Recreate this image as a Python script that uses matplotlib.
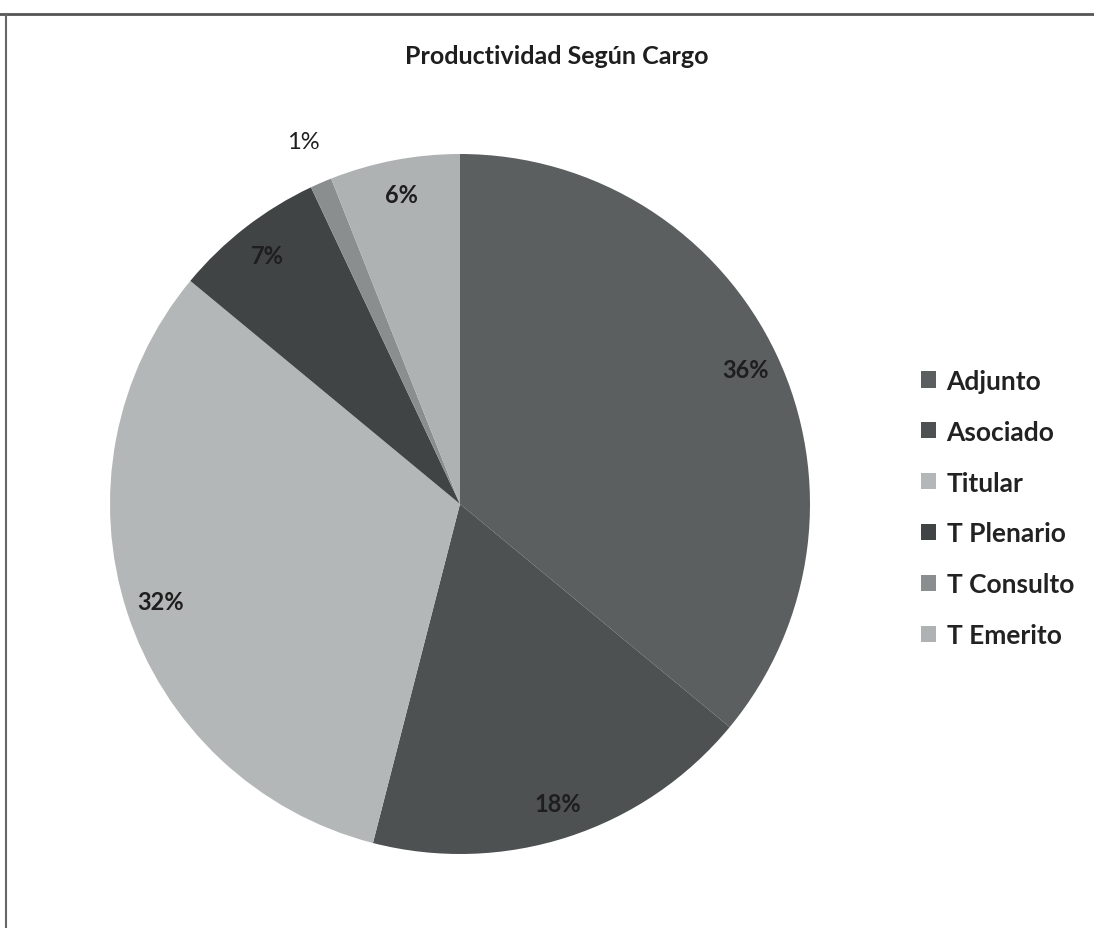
import matplotlib
matplotlib.use("Agg")
import matplotlib.pyplot as plt
import numpy as np
from matplotlib.lines import Line2D
from matplotlib.patches import Patch

categories = ["Adjunto", "Asociado", "Titular", "T Plenario", "T Consulto", "T Emerito"]
values = [36, 18, 32, 7, 1, 6]
labels = ["36%", "18%", "32%", "7%", "1%", "6%"]
colors = ["#5b5f5f", "#4d5151", "#b4b7b7", "#404444", "#8a8e8e", "#afb2b2"]

W, H = 1094, 929
fig = plt.figure(figsize=(W / 100, H / 100), dpi=100)
fig.patch.set_facecolor("white")

cx, cy, r = 460, 505, 350
ax = fig.add_axes([(cx - r) / W, (H - cy - r) / H, 2 * r / W, 2 * r / H])
wedges, _ = ax.pie(values, colors=colors, startangle=90, counterclock=False,
                   radius=1.0, wedgeprops=dict(linewidth=0))
ax.set_xlim(-1, 1)
ax.set_ylim(-1, 1)
ax.set_aspect("equal")
ax.axis("off")

for w, lab, v in zip(wedges, labels, values):
    ang = np.deg2rad((w.theta1 + w.theta2) / 2)
    d = 1.13 if v < 2 else 0.90
    ax.text(d * np.cos(ang), d * np.sin(ang), lab, ha="center", va="center",
            fontsize=17, fontweight="bold" if v >= 2 else "normal",
            color="#1e1e1e", family="Lato")

fig.text(557 / W, 1 - 57 / H, "Productividad Según Cargo", ha="center", va="center",
         fontsize=18, color="#1e1e1e", family="Lato", fontweight="bold")

handles = [Patch(facecolor=c, edgecolor="none") for c in colors]
leg = fig.legend(handles, categories, loc="center left",
                 bbox_to_anchor=(921 / W, 1 - 509 / H), frameon=False,
                 prop=dict(family="Lato", size=19, weight="bold"),
                 handlelength=0.57, handleheight=0.57, handletextpad=0.4,
                 labelspacing=1.02, borderpad=0, borderaxespad=0)
for t in leg.get_texts():
    t.set_color("#222222")

# chart frame
fig.add_artist(Line2D([0, 1], [1 - 15 / H, 1 - 15 / H], transform=fig.transFigure,
                      color="#555555", linewidth=2))
fig.add_artist(Line2D([6 / W, 6 / W], [0, 1 - 15 / H], transform=fig.transFigure,
                      color="#666666", linewidth=1.5))

fig.savefig("out.png", dpi=100, facecolor="white")
